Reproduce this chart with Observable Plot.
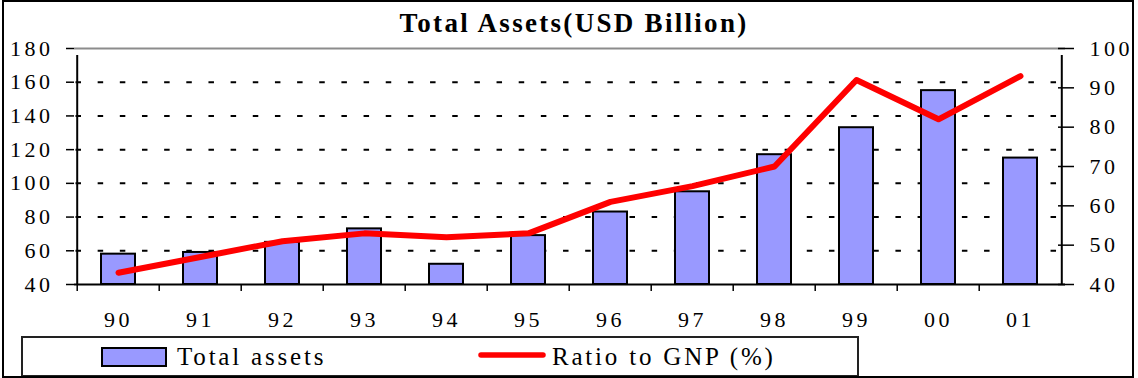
<!DOCTYPE html>
<html>
<head>
<meta charset="utf-8">
<script src="https://cdn.jsdelivr.net/npm/d3@7"></script>
<script src="https://cdn.jsdelivr.net/npm/@observablehq/plot@0.6"></script>
<style>
  html, body { margin: 0; padding: 0; background: #fff; }
  #chart { position: relative; width: 1138px; height: 378px; overflow: hidden;
           font-family: "Liberation Serif", "Times New Roman", serif; color: #000; }
  #chart > svg { position: absolute; left: 0; top: 0; }
  #title { position: absolute; left: 5px; top: 10px; width: 1138px; text-align: center;
           font-weight: bold; font-size: 27px; line-height: 27px; letter-spacing: 2.3px; }
  #border { position: absolute; left: 2px; top: 0; width: 1128px; height: 374px;
            border: 2px solid #000; }
</style>
</head>
<body>
<div id="chart">
  <div id="title">Total Assets(USD Billion)</div>
</div>
<script>
// Fiscal years (two-digit labels)
const years = ["90", "91", "92", "93", "94", "95", "96", "97", "98", "99", "00", "01"];
// Total assets, USD billion (left axis)
const totalAssets = [58, 59, 65, 73, 52, 69, 83, 95, 117, 133, 155, 115];
// Ratio to GNP, percent (right axis)
const ratioToGNP = [43, 47, 51, 53, 52, 53, 61, 65, 70, 92, 82, 93];
// Axis ticks
const assetTicks = [40, 60, 80, 100, 120, 140, 160, 180];
const ratioTicks = [40, 50, 60, 70, 80, 90, 100];
// Legend entries
const seriesNames = ["Total assets", "Ratio to GNP (%)"];

const width = 1138, height = 335;
const margin = {top: 48, right: 73, bottom: 51, left: 74};
const step = (width - margin.left - margin.right) / years.length;

const assetDomain = d3.extent(assetTicks);
const ratioDomain = d3.extent(ratioTicks);
// Maps the right-hand (ratio) axis onto the left-hand (assets) scale
const ratioToAsset = d3.scaleLinear(ratioDomain, assetDomain);

const rows = years.map((year, i) => ({year, assets: totalAssets[i], ratio: ratioToGNP[i]}));

const barFill = "#9999ff";
const lineColor = "#ff0000";

const chart = Plot.plot({
  width, height,
  marginTop: margin.top, marginRight: margin.right,
  marginBottom: margin.bottom, marginLeft: margin.left,
  x: {domain: years, paddingInner: 0.58, paddingOuter: 0.29, label: null},
  y: {domain: assetDomain, label: null},
  style: {
    background: "transparent", overflow: "visible", color: "#000",
    fontFamily: '"Liberation Serif", "Times New Roman", serif',
    fontSize: "22px", letterSpacing: "3.5px"
  },
  marks: [
    // dashed horizontal gridlines
    Plot.ruleY(assetTicks.slice(1, -1), {stroke: "#000", strokeWidth: 2, strokeDasharray: "5.5,16.66", strokeDashoffset: -1.5}),
    // total assets bars
    Plot.barY(rows, {x: "year", y1: () => assetDomain[0], y2: "assets", fill: barFill, stroke: "#000", strokeWidth: 2}),
    // plot-area top edge and bottom axis line
    Plot.ruleY([assetDomain[1]], {stroke: "#8c8c8c", strokeWidth: 2}),
    Plot.ruleY([assetDomain[0]], {stroke: "#000", strokeWidth: 2}),
    // category boundary ticks below the x axis
    Plot.ruleX(years, {x: d => d, dx: -step / 2, y1: () => assetDomain[0], y2: () => assetDomain[0], insetBottom: -7, stroke: "#000", strokeWidth: 1.5}),
    // left and right axis lines
    Plot.ruleX([years[0]], {x: d => d, dx: -step / 2, y1: () => assetDomain[0], y2: () => assetDomain[1], insetBottom: -7, stroke: "#000", strokeWidth: 2}),
    Plot.ruleX([years[years.length - 1]], {x: d => d, dx: step / 2, y1: () => assetDomain[0], y2: () => assetDomain[1], insetBottom: -7, stroke: "#000", strokeWidth: 2}),
    // left axis (assets)
    Plot.axisY(assetTicks, {anchor: "left", tickSize: 8, tickPadding: 13, strokeWidth: 1.5}),
    // right axis (ratio): crossing tick marks, then labels
    Plot.axisY(ratioTicks.map(ratioToAsset), {anchor: "right", tickSize: 16, insetRight: 8, strokeWidth: 1.5,
      tickFormat: () => ""}),
    Plot.axisY(ratioTicks.map(ratioToAsset), {anchor: "right", tickSize: 0, tickPadding: 24,
      tickFormat: v => String(Math.round(ratioToAsset.invert(v)))}),
    // year labels
    Plot.axisX(years, {anchor: "bottom", tickSize: 0, tickPadding: 27}),
    // ratio line
    Plot.line(rows, {x: "year", y: d => ratioToAsset(d.ratio), stroke: lineColor, strokeWidth: 6,
      strokeLinejoin: "round", strokeLinecap: "round"})
  ]
});

const container = document.getElementById("chart");
container.insertBefore(chart, container.firstChild);

// Legend box below the plot
const legend = d3.create("svg")
  .attr("width", 1138).attr("height", 378)
  .style("font-family", '"Liberation Serif", "Times New Roman", serif')
  .style("font-size", "25px").style("letter-spacing", "2.8px");
legend.append("rect")
  .attr("x", 22).attr("y", 337).attr("width", 836).attr("height", 39)
  .attr("fill", "none").attr("stroke", "#222").attr("stroke-width", 2);
legend.append("rect")
  .attr("x", 102).attr("y", 348).attr("width", 64).attr("height", 18)
  .attr("fill", barFill).attr("stroke", "#000").attr("stroke-width", 2);
legend.append("text").attr("x", 177).attr("y", 365).text(seriesNames[0]);
legend.append("line")
  .attr("x1", 481).attr("x2", 543).attr("y1", 355).attr("y2", 355)
  .attr("stroke", lineColor).attr("stroke-width", 5.5).attr("stroke-linecap", "round");
legend.append("text").attr("x", 552).attr("y", 365).text(seriesNames[1]);
container.appendChild(legend.node());

const border = document.createElement("div");
border.id = "border";
container.appendChild(border);
</script>
</body>
</html>
